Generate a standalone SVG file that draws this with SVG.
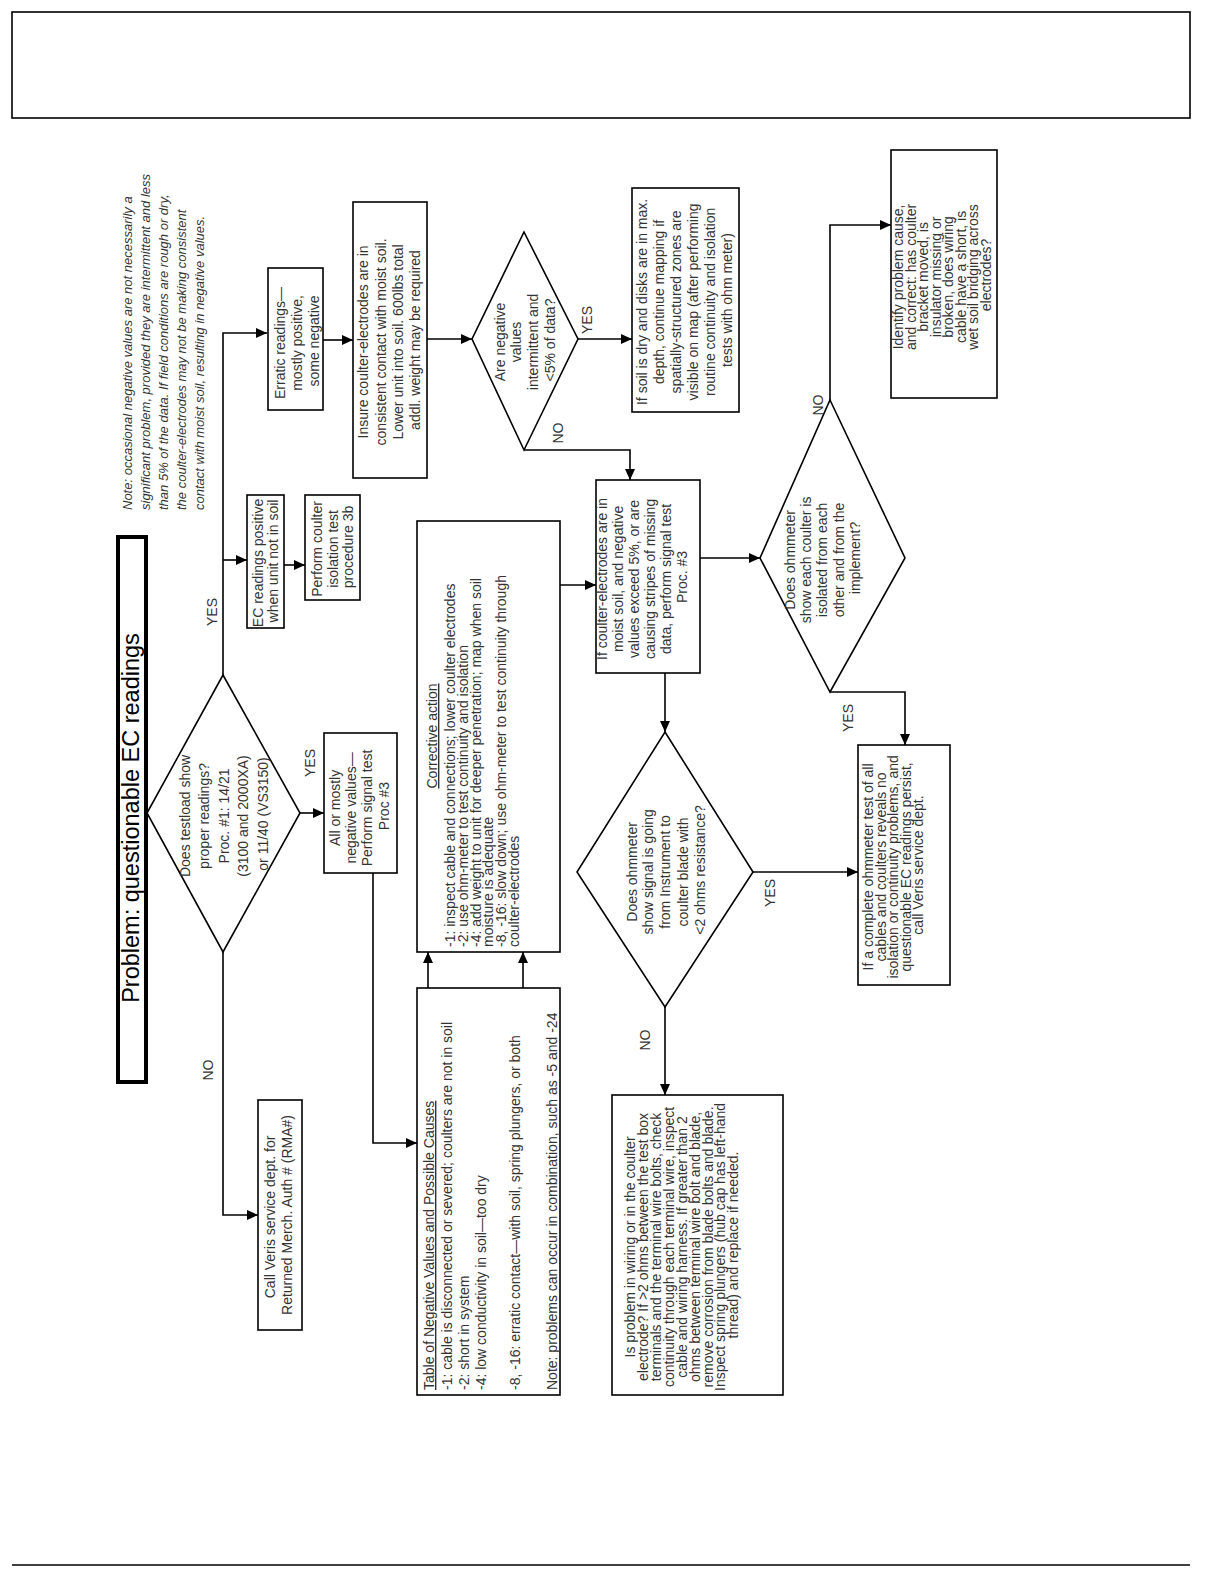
<svg xmlns="http://www.w3.org/2000/svg" width="1225" height="1585" viewBox="0 0 1225 1585">
<defs>
<marker id="arr" markerWidth="11" markerHeight="10" refX="11" refY="5" orient="auto" markerUnits="userSpaceOnUse"><path d="M0,0 L11,5 L0,10 z" fill="#000"/></marker>
<style>
.box{fill:#fff;stroke:#000;stroke-width:1.6}
.frame{fill:none;stroke:#000;stroke-width:1.6}
.dia{fill:#fff;stroke:#000;stroke-width:1.6}
.ln{fill:none;stroke:#000;stroke-width:1.6}
.t{font-family:"Liberation Sans",Arial,sans-serif;font-size:14px;fill:#333}
.c{text-anchor:middle}
.s{text-anchor:start}
.note{font-style:italic;font-size:13px}
.title{font-size:23.5px;fill:#000}
.u{text-decoration:underline}
</style>
</defs>
<rect width="1225" height="1585" fill="#fff"/>
<rect class="frame" x="12" y="12" width="1178" height="106"/>
<line class="ln" x1="12" y1="1565" x2="1190" y2="1565"/>

<g id="connectors">
<polyline class="ln" points="223,675 223,333 267,333" marker-end="url(#arr)"/>
<polyline class="ln" points="223,560 247,560" marker-end="url(#arr)"/>
<polyline class="ln" points="284,565 305,565" marker-end="url(#arr)"/>
<polyline class="ln" points="323,340 353,340" marker-end="url(#arr)"/>
<polyline class="ln" points="427,339 472,339" marker-end="url(#arr)"/>
<polyline class="ln" points="578,339 632,339" marker-end="url(#arr)"/>
<polyline class="ln" points="524,450 630,450 630,480" marker-end="url(#arr)"/>
<polyline class="ln" points="300,813 324,813" marker-end="url(#arr)"/>
<polyline class="ln" points="373,873 373,1143 417,1143" marker-end="url(#arr)"/>
<polyline class="ln" points="428,988 428,952" marker-end="url(#arr)"/>
<polyline class="ln" points="523,988 523,952" marker-end="url(#arr)"/>
<polyline class="ln" points="560,585 596,585" marker-end="url(#arr)"/>
<polyline class="ln" points="665,673 665,732" marker-end="url(#arr)"/>
<polyline class="ln" points="700,558 760,558" marker-end="url(#arr)"/>
<polyline class="ln" points="753,872 858,872" marker-end="url(#arr)"/>
<polyline class="ln" points="665,1007 665,1095" marker-end="url(#arr)"/>
<polyline class="ln" points="830,400 830,225 891,225" marker-end="url(#arr)"/>
<polyline class="ln" points="830,692 905,692 905,745" marker-end="url(#arr)"/>
<polyline class="ln" points="223,952 223,1215 258,1215" marker-end="url(#arr)"/>
</g>

<g id="labels">
<text class="t c" transform="translate(0,612) rotate(-90)"><tspan x="0" y="217">YES</tspan></text>
<text class="t c" transform="translate(0,763) rotate(-90)"><tspan x="0" y="315">YES</tspan></text>
<text class="t c" transform="translate(0,1070) rotate(-90)"><tspan x="0" y="213">NO</tspan></text>
<text class="t c" transform="translate(0,320) rotate(-90)"><tspan x="0" y="592">YES</tspan></text>
<text class="t c" transform="translate(0,433) rotate(-90)"><tspan x="0" y="563">NO</tspan></text>
<text class="t c" transform="translate(0,1040) rotate(-90)"><tspan x="0" y="650">NO</tspan></text>
<text class="t c" transform="translate(0,893) rotate(-90)"><tspan x="0" y="775">YES</tspan></text>
<text class="t c" transform="translate(0,405) rotate(-90)"><tspan x="0" y="823">NO</tspan></text>
<text class="t c" transform="translate(0,718) rotate(-90)"><tspan x="0" y="853">YES</tspan></text>
</g>

<g id="title">
<rect x="118" y="537" width="28" height="545" fill="#fff" stroke="#000" stroke-width="4"/>
<text class="t c title" transform="translate(0,818) rotate(-90)"><tspan x="0" y="139">Problem:  questionable EC readings</tspan></text>
</g>

<g id="note">
<text class="t s note" transform="translate(0,510) rotate(-90)">
<tspan x="0" y="132">Note: occasional negative values are not necessarily a</tspan>
<tspan x="0" y="150">significant problem, provided they are intermittent and less</tspan>
<tspan x="0" y="168">than 5% of the data.  If field conditions are rough or dry,</tspan>
<tspan x="0" y="186">the coulter-electrodes may not be making consistent</tspan>
<tspan x="0" y="204">contact with moist soil, resulting in negative values.</tspan>
</text>
</g>

<g id="d1">
<polygon class="dia" points="223,675 300,813 223,952 147,813"/>
<text class="t c" transform="translate(0,814) rotate(-90)">
<tspan x="0" y="190">Does testload show</tspan>
<tspan x="0" y="209">proper readings?</tspan>
<tspan x="0" y="229">Proc. #1: 14/21</tspan>
<tspan x="0" y="248">(3100 and 2000XA)</tspan>
<tspan x="0" y="268">or 11/40 (VS3150)</tspan>
</text>
</g>

<g id="ec">
<rect class="box" x="247" y="495" width="37" height="133"/>
<text class="t c" transform="translate(0,561) rotate(-90)">
<tspan x="0" y="263">EC readings positive</tspan>
<tspan x="0" y="278">when unit not in soil</tspan>
</text>
</g>

<g id="perform">
<rect class="box" x="305" y="495" width="55" height="105"/>
<text class="t c" transform="translate(0,547) rotate(-90)">
<tspan x="0" y="322">Perform coulter</tspan>
<tspan x="0" y="338">isolation test</tspan>
<tspan x="0" y="353">procedure 3b</tspan>
</text>
</g>

<g id="erratic">
<rect class="box" x="268" y="268" width="55" height="142"/>
<text class="t c" transform="translate(0,341) rotate(-90)">
<tspan x="0" y="285">Erratic readings—</tspan>
<tspan x="0" y="302">mostly positive,</tspan>
<tspan x="0" y="319">some negative</tspan>
</text>
</g>

<g id="insure">
<rect class="box" x="353" y="202" width="74" height="276"/>
<text class="t c" transform="translate(0,340) rotate(-90)">
<tspan x="0" y="368">Insure coulter-electrodes are in</tspan>
<tspan x="0" y="386">consistent contact with moist soil.</tspan>
<tspan x="0" y="403">Lower unit into soil. 600lbs total</tspan>
<tspan x="0" y="420">addl. weight may be required</tspan>
</text>
</g>

<g id="d2">
<polygon class="dia" points="524,232 578,339 524,450 472,339"/>
<text class="t c" transform="translate(0,340) rotate(-90)">
<tspan x="0" y="505">Are negative</tspan>
<tspan x="0" y="521">values</tspan>
<tspan x="0" y="538">intermittent and</tspan>
<tspan x="0" y="555">&lt;5% of data?</tspan>
</text>
</g>

<g id="soil">
<rect class="box" x="632" y="188" width="107" height="224"/>
<text class="t c" transform="translate(0,300) rotate(-90)">
<tspan x="0" y="647">If soil is dry and disks are in max.</tspan>
<tspan x="0" y="664">depth, continue mapping if</tspan>
<tspan x="0" y="681">spatially-structured zones are</tspan>
<tspan x="0" y="698">visible on map (after performing</tspan>
<tspan x="0" y="715">routine continuity and isolation</tspan>
<tspan x="0" y="732">tests with ohm meter)</tspan>
</text>
</g>

<g id="allneg">
<rect class="box" x="324" y="733" width="73" height="140"/>
<text class="t c" transform="translate(0,806) rotate(-90)">
<tspan x="0" y="340">All or mostly</tspan>
<tspan x="0" y="356">negative values—</tspan>
<tspan x="0" y="372">Perform signal test</tspan>
<tspan x="0" y="389">Proc #3</tspan>
</text>
</g>

<g id="corrective">
<rect class="box" x="417" y="521" width="143" height="431"/>
<text class="t c u" transform="translate(0,736) rotate(-90)"><tspan x="0" y="437">Corrective action</tspan></text>
<text class="t s" transform="translate(0,947) rotate(-90)">
<tspan x="0" y="455">-1: inspect cable and connections; lower coulter electrodes</tspan>
<tspan x="0" y="468">-2: use ohm-meter to test continuity and isolation</tspan>
<tspan x="0" y="481">-4: add weight to unit for deeper penetration; map when soil</tspan>
<tspan x="0" y="493">moisture is adequate</tspan>
<tspan x="0" y="506">-8, -16: slow down; use ohm-meter to test continuity through</tspan>
<tspan x="0" y="519">coulter-electrodes</tspan>
</text>
</g>

<g id="table">
<rect class="box" x="417" y="988" width="143" height="407"/>
<text class="t s u" transform="translate(0,1390) rotate(-90)" font-size="16"><tspan x="0" y="434">Table of Negative Values and Possible Causes</tspan></text>
<text class="t s" transform="translate(0,1390) rotate(-90)">
<tspan x="0" y="452">-1: cable is disconnected or severed; coulters are not in soil</tspan>
<tspan x="0" y="469">-2: short in system</tspan>
<tspan x="0" y="486">-4: low conductivity in soil—too dry</tspan>
<tspan x="0" y="520">-8, -16: erratic contact—with soil, spring plungers, or both</tspan>
<tspan x="0" y="557">Note: problems can occur in combination, such as -5 and -24</tspan>
</text>
</g>

<g id="ifcoulter">
<rect class="box" x="596" y="480" width="104" height="193"/>
<text class="t c" transform="translate(0,577) rotate(-90)">
<tspan x="0" y="607">If coulter-electrodes are in</tspan>
<tspan x="0" y="623">moist soil, and negative</tspan>
<tspan x="0" y="639">values exceed 5%, or are</tspan>
<tspan x="0" y="655">causing stripes of missing</tspan>
<tspan x="0" y="671">data, perform signal test</tspan>
<tspan x="0" y="687">Proc. #3</tspan>
</text>
</g>

<g id="d3">
<polygon class="dia" points="665,732 753,872 665,1007 577,872"/>
<text class="t c" transform="translate(0,870) rotate(-90)">
<tspan x="0" y="637">Does ohmmeter</tspan>
<tspan x="0" y="653">show signal is going</tspan>
<tspan x="0" y="670">from Instrument to</tspan>
<tspan x="0" y="688">coulter blade with</tspan>
<tspan x="0" y="705">&lt;2 ohms resistance?</tspan>
</text>
</g>

<g id="d4">
<polygon class="dia" points="830,400 905,558 830,692 760,558"/>
<text class="t c" transform="translate(0,558) rotate(-90)">
<tspan x="0" y="795">Does ohmmeter</tspan>
<tspan x="0" y="811">show each coulter is</tspan>
<tspan x="0" y="827">isolated from each</tspan>
<tspan x="0" y="844">other and from the</tspan>
<tspan x="0" y="860">implement?</tspan>
</text>
</g>

<g id="identify">
<rect class="box" x="891" y="150" width="106" height="248"/>
<text class="t c" transform="translate(0,275) rotate(-90)">
<tspan x="0" y="903">Identify problem cause,</tspan>
<tspan x="0" y="915.5">and correct: has coulter</tspan>
<tspan x="0" y="928">bracket moved, is</tspan>
<tspan x="0" y="940.5">insulator missing or</tspan>
<tspan x="0" y="953">broken, does wiring</tspan>
<tspan x="0" y="965.5">cable have a short, is</tspan>
<tspan x="0" y="978">wet soil bridging across</tspan>
<tspan x="0" y="990.5">electrodes?</tspan>
</text>
</g>

<g id="complete">
<rect class="box" x="858" y="745" width="92" height="240"/>
<text class="t c" transform="translate(0,865) rotate(-90)">
<tspan x="0" y="873">If a complete ohmmeter test of all</tspan>
<tspan x="0" y="885.5">cables and coulters reveals no</tspan>
<tspan x="0" y="898">isolation or continuity problems, and</tspan>
<tspan x="0" y="910.5">questionable EC readings persist,</tspan>
<tspan x="0" y="923">call Veris service dept.</tspan>
</text>
</g>

<g id="isproblem">
<rect class="box" x="612" y="1095" width="171" height="300"/>
<text class="t c" transform="translate(0,1245) rotate(-90)">
<tspan x="0" y="635">Is problem in wiring or in the coulter</tspan>
<tspan x="0" y="648">electrode? If &gt;2 ohms between the test box</tspan>
<tspan x="0" y="661">terminals and the terminal wire bolts, check</tspan>
<tspan x="0" y="674">continuity through each terminal wire, inspect</tspan>
<tspan x="0" y="687">cable and wiring harness. If greater than 2</tspan>
<tspan x="0" y="700">ohms between terminal wire bolt and blade,</tspan>
<tspan x="0" y="713">remove corrosion from blade bolts and blade.</tspan>
<tspan x="0" y="725">Inspect spring plungers (hub cap has left-hand</tspan>
<tspan x="0" y="738">thread) and replace if needed.</tspan>
</text>
</g>

<g id="callveris">
<rect class="box" x="258" y="1100" width="44" height="230"/>
<text class="t c" transform="translate(0,1215) rotate(-90)">
<tspan x="0" y="275">Call Veris service dept. for</tspan>
<tspan x="0" y="292">Returned Merch. Auth # (RMA#)</tspan>
</text>
</g>
</svg>
